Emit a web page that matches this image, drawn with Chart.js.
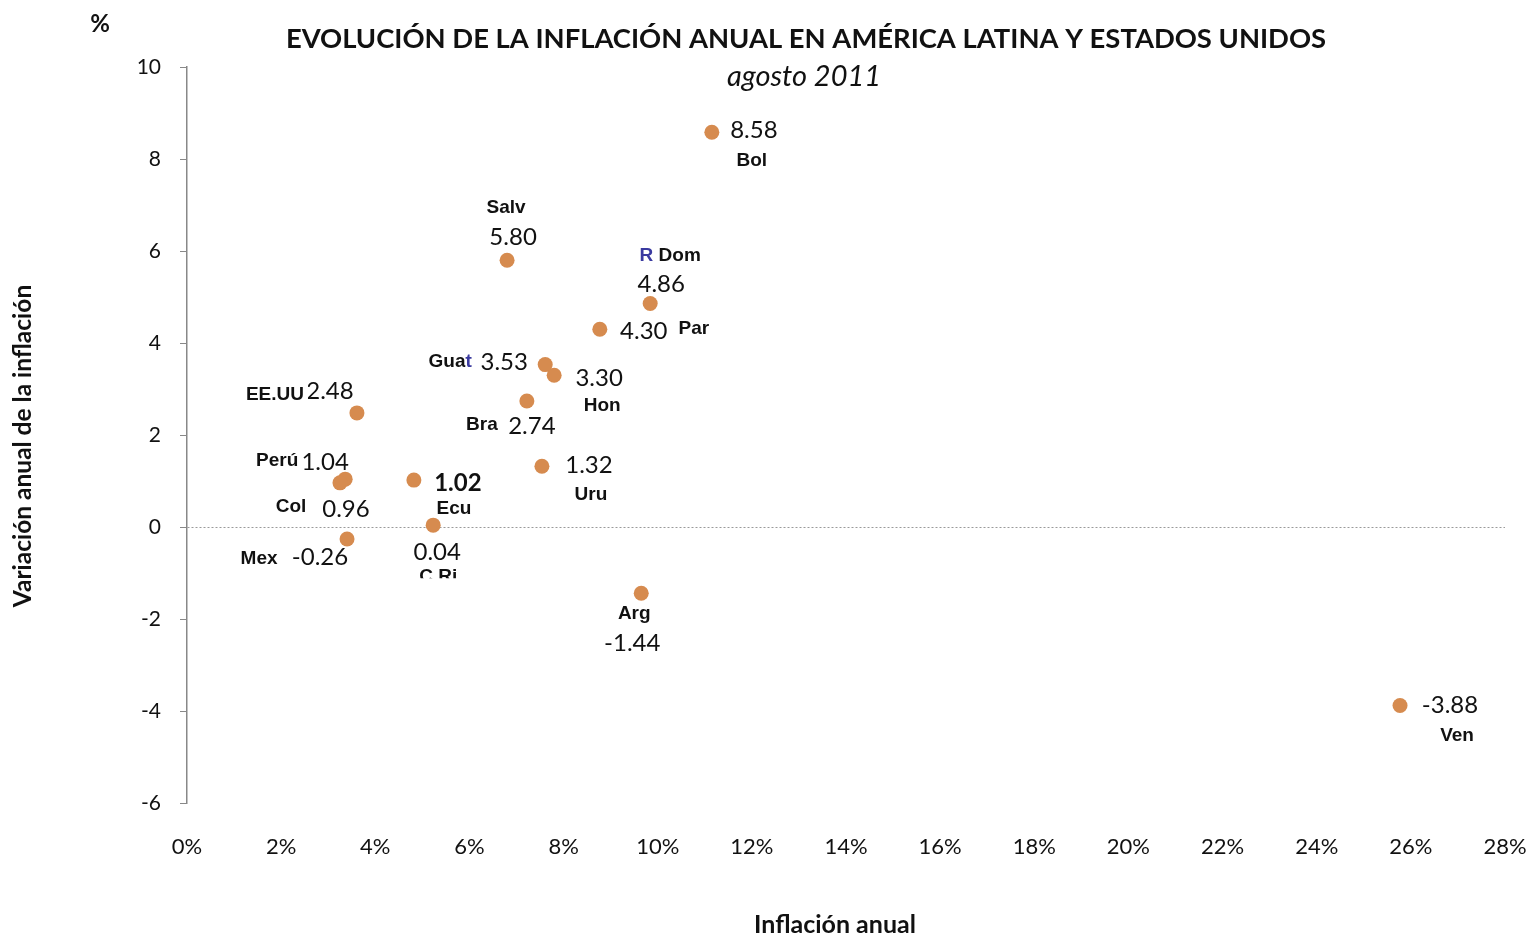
<!DOCTYPE html>
<html>
<head>
<meta charset="utf-8">
<script src="https://cdn.jsdelivr.net/npm/chart.js@4.4.1/dist/chart.umd.min.js"></script>
<style>
html,body{margin:0;padding:0;background:#fff;}
#wrap{position:relative;width:1530px;height:936px;}
</style>
</head>
<body>
<div id="wrap"><canvas id="c" width="1530" height="936"></canvas></div>
<script>
// ---- data ----
const categories = ['Bol','Salv','R Dom','Par','Guat','Hon','Bra','EE.UU','Uru','Perú','Col','Ecu','C Ri','Mex','Arg','Ven'];
const inflation  = [11.15, 6.80, 9.84, 8.77, 7.61, 7.80, 7.22, 3.61, 7.54, 3.36, 3.25, 4.82, 5.23, 3.40, 9.65, 25.77];
const variation  = [8.58, 5.80, 4.86, 4.30, 3.53, 3.30, 2.74, 2.48, 1.32, 1.04, 0.96, 1.02, 0.04, -0.26, -1.44, -3.88];
const xTicks = [0,2,4,6,8,10,12,14,16,18,20,22,24,26,28];
const yTicks = [-6,-4,-2,0,2,4,6,8,10];

// ---- label styling (offsets in px from the point) ----
const valueOffsets = [[42,-2],[6,-23],[11,-19],[44,2],[-41,-2],[45,3],[5,25],[-27,-22],[47,-1],[-20,-17],[6,26],[44,3],[4,27],[-27,18],[-9,50],[50,0]];
const nameOffsets  = [[40,28],[-1,-52],[20,-48],[94,0],[-95,-3],[48,31],[-45,24],[-82,-18],[49,28],[-68,-18],[-49,24],[40,29],[5,52],[-88,20],[-7,21],[57,30]];
const blueChars = {'R Dom':[0],'Guat':[3]};
const boldValues = {'Ecu':true};
const clipBelow = {'C Ri':53};

const VALUE_FONT = '24px Lato, "Open Sans", sans-serif';
const VALUE_FONT_B = 'bold 24px Lato, "Open Sans", sans-serif';
const NAME_FONT = 'bold 19px "Liberation Sans Narrow", "Liberation Sans", Arial, sans-serif';

const labelPlugin = {
  id: 'labels',
  beforeDatasetsDraw(chart) {
    const ctx = chart.ctx;
    const meta = chart.getDatasetMeta(0);
    ctx.save();
    ctx.textBaseline = 'middle';
    ctx.textAlign = 'left';
    meta.data.forEach((pt, i) => {
      const name = categories[i];
      const vtxt = variation[i].toFixed(2);
      const drawBoxText = (txt, font, cx, cy, colors) => {
        ctx.font = font;
        const w = ctx.measureText(txt).width;
        const h = 26;
        ctx.fillStyle = '#fff';
        ctx.fillRect(cx - w/2 - 4, cy - h/2, w + 8, h);
        const x0 = cx - w/2;
        ctx.fillStyle = '#111';
        ctx.fillText(txt, x0, cy);
        if (colors) {
          colors.forEach(k => {
            const px = x0 + ctx.measureText(txt.slice(0, k)).width;
            const cw = ctx.measureText(txt[k]).width;
            ctx.fillStyle = '#fff';
            ctx.fillRect(px, cy - h/2, cw, h);
            ctx.fillStyle = '#3a3aa0';
            ctx.fillText(txt[k], px, cy);
          });
        }
      };
      const vo = valueOffsets[i], no = nameOffsets[i];
      drawBoxText(vtxt, boldValues[name] ? VALUE_FONT_B : VALUE_FONT, pt.x + vo[0], pt.y + vo[1], null);
      if (clipBelow[name] !== undefined) {
        ctx.save();
        ctx.beginPath();
        ctx.rect(0, 0, 1530, pt.y + clipBelow[name]);
        ctx.clip();
        drawBoxText(name, NAME_FONT, pt.x + no[0], pt.y + no[1], blueChars[name]);
        ctx.restore();
      } else {
        drawBoxText(name, NAME_FONT, pt.x + no[0], pt.y + no[1], blueChars[name]);
      }
    });
    ctx.restore();
  }
};

const titlePlugin = {
  id: 'titles',
  afterDraw(chart) {
    const ctx = chart.ctx;
    ctx.save();
    ctx.fillStyle = '#111';
    ctx.textAlign = 'center';
    ctx.textBaseline = 'middle';
    ctx.font = 'bold 27.4px Lato, "Open Sans", sans-serif';
    ctx.fillText('EVOLUCIÓN DE LA INFLACIÓN ANUAL EN AMÉRICA LATINA Y ESTADOS UNIDOS', 806, 39);
    ctx.font = 'italic 29px Lato, "Open Sans", sans-serif';
    ctx.fillText('agosto 2011', 804, 77);
    ctx.font = 'bold 24px Lato, "Open Sans", sans-serif';
    ctx.fillText('%', 100, 24);
    ctx.font = 'bold 25px Lato, "Open Sans", sans-serif';
    ctx.fillText('Inflación anual', 835, 925);
    ctx.font = 'bold 24.5px Lato, "Open Sans", sans-serif';
    ctx.translate(23, 446);
    ctx.rotate(-Math.PI/2);
    ctx.fillText('Variación anual de la inflación', 0, 0);
    ctx.restore();
  }
};

new Chart(document.getElementById('c'), {
  type: 'scatter',
  data: {
    labels: categories,
    datasets: [{
      label: 'Inflación',
      data: inflation.map((x, i) => ({x: x, y: variation[i]})),
      backgroundColor: '#D68B4F',
      borderColor: '#D68B4F',
      pointRadius: 7.5,
      pointHoverRadius: 7.5,
      borderWidth: 0
    }]
  },
  options: {
    responsive: false,
    animation: false,
    devicePixelRatio: 1,
    layout: { padding: { left: 0, right: 25, top: 67, bottom: 0 } },
    plugins: { legend: { display: false }, tooltip: { enabled: false }, title: { display: false } },
    scales: {
      x: {
        type: 'linear',
        min: 0, max: 28,
        afterBuildTicks(scale) { scale.ticks = xTicks.map(v => ({value: v})); },
        afterFit(scale) { scale.height = 133; scale.paddingLeft = 0; scale.paddingRight = 0; },
        grid: { display: false, drawTicks: false },
        border: { display: false },
        ticks: {
          padding: 31,
          color: '#111',
          font: { family: 'Lato, "Open Sans", sans-serif', size: 22 },
          callback: v => v + '%',
          maxRotation: 0
        }
      },
      y: {
        type: 'linear',
        min: -6, max: 10,
        afterBuildTicks(scale) { scale.ticks = yTicks.map(v => ({value: v})); },
        afterFit(scale) { scale.width = 187; scale.paddingTop = 0; scale.paddingBottom = 0; },
        grid: {
          drawOnChartArea: true,
          color: c => (c.tick && c.tick.value === 0) ? '#9a9a9a' : 'rgba(0,0,0,0)',
          lineWidth: 1,
          tickColor: '#888',
          tickBorderDash: [],
          tickLength: 7
        },
        border: { display: true, color: '#888', width: 1.5, dash: [2, 2] },
        ticks: {
          padding: 19,
          color: '#111',
          font: { family: 'Lato, "Open Sans", sans-serif', size: 21 }
        }
      }
    }
  },
  plugins: [labelPlugin, titlePlugin]
});
</script>
</body>
</html>
